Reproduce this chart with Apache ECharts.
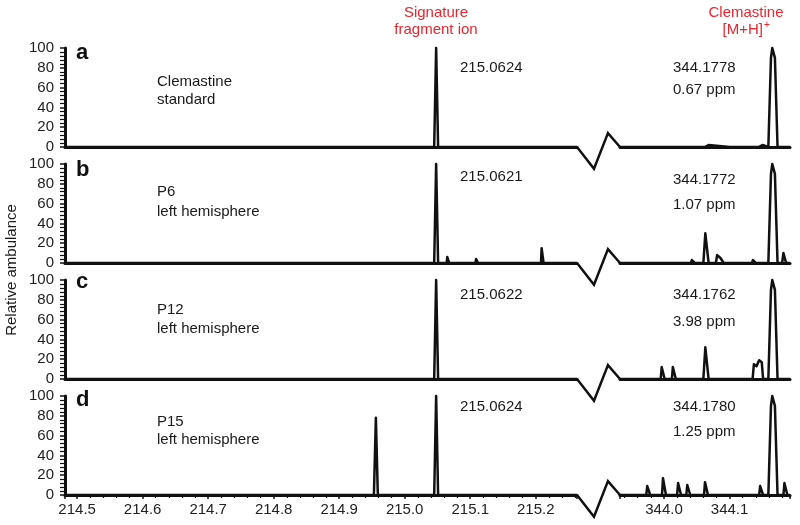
<!DOCTYPE html>
<html>
<head>
<meta charset="utf-8">
<script src="https://cdn.jsdelivr.net/npm/echarts@6/dist/echarts.min.js"></script>
<style>html,body{margin:0;padding:0;background:#fff}#chart{width:800px;height:525px}</style>
</head>
<body>
<div id="chart"></div>
<script>
// ---------- data ----------
const panelLetters = ['a', 'b', 'c', 'd'];
const sampleLine1 = ['Clemastine', 'P6', 'P12', 'P15'];
const sampleLine2 = ['standard', 'left hemisphere', 'left hemisphere', 'left hemisphere'];
const fragmentMass = ['215.0624', '215.0621', '215.0622', '215.0624'];
const parentMass = ['344.1778', '344.1772', '344.1762', '344.1780'];
const ppmError = ['0.67 ppm', '1.07 ppm', '3.98 ppm', '1.25 ppm'];

const leftRange = [214.4815, 215.263];
const rightRange = [343.933, 344.192];
const yTicks = [0, 100, 20];

// profile points [m/z, relative abundance]
const specA_L = [[214.4815,0],[215.045,0],[215.048,100],[215.051,0],[215.263,0]];
const specB_L = [[214.4815,0],[215.045,0],[215.048,100],[215.051,0],[215.064,0],[215.065,6],[215.067,6],[215.068,0],
  [215.108,0],[215.109,4],[215.111,4],[215.112,0],[215.124,0],[215.125,1],[215.127,1],[215.128,0],
  [215.163,0],[215.164,2],[215.166,2],[215.167,0],[215.208,0],[215.209,15],[215.211,15],[215.212,0],[215.263,0]];
const specC_L = [[214.4815,0],[215.045,0],[215.048,100],[215.051,0],[215.064,0],[215.065,2],[215.067,2],[215.068,0],
  [215.108,0],[215.109,1],[215.111,1],[215.112,0],[215.263,0]];
const specD_L = [[214.4815,0],[214.953,0],[214.956,78],[214.959,0],[215.045,0],[215.048,100],[215.051,0],
  [215.108,0],[215.109,2],[215.111,2],[215.112,0],[215.263,0]];

const specA_R = [[343.933,0],[344.062,0],[344.064,2],[344.068,2],[344.070,0],[344.100,0],[344.144,0],[344.146,2],[344.150,2],[344.152,0],
  [344.159,0],[344.163,90],[344.165,100],[344.167,100],[344.169,90],[344.173,0],[344.192,0]];
const specB_R = [[343.933,0],[344.041,0],[344.0425,3],[344.0455,3],[344.047,0],[344.060,0],[344.063,30],[344.064,32],[344.065,30],[344.068,0],
  [344.079,0],[344.081,8],[344.083,7],[344.086,5],[344.089,5],[344.091,0],[344.134,0],[344.1355,3],[344.1385,3],[344.140,0],
  [344.159,0],[344.163,90],[344.165,100],[344.167,100],[344.169,90],[344.173,0],[344.180,0],[344.182,10],[344.184,10],[344.186,0],[344.192,0]];
const specC_R = [[343.933,0],[343.995,0],[343.9965,12],[343.9995,12],[344.001,0],[344.012,0],[344.0135,12],[344.0165,12],[344.018,0],
  [344.060,0],[344.063,32],[344.064,34],[344.065,32],[344.068,0],
  [344.135,0],[344.137,15],[344.139,16],[344.141,13],[344.143,13],[344.145,19],[344.147,20],[344.149,17],[344.151,0],
  [344.159,0],[344.163,90],[344.165,100],[344.167,100],[344.169,90],[344.173,0],[344.192,0]];
const specD_R = [[343.933,0],[343.973,0],[343.9745,9],[343.9775,9],[343.979,0],[343.997,0],[343.9985,17],[344.0015,17],[344.003,0],
  [344.020,0],[344.0215,12],[344.0245,12],[344.026,0],[344.034,0],[344.0355,10],[344.0385,10],[344.040,0],
  [344.061,0],[344.0625,13],[344.0655,13],[344.067,0],[344.145,0],[344.1465,9],[344.1495,9],[344.151,0],
  [344.159,0],[344.163,90],[344.165,100],[344.167,100],[344.169,90],[344.173,0],[344.182,0],[344.1835,12],[344.1865,12],[344.188,0],[344.192,0]];

const leftSpectra = [specA_L, specB_L, specC_L, specD_L];
const rightSpectra = [specA_R, specB_R, specC_R, specD_R];

// axis-break zigzag in the gap between the two x ranges (fraction of gap, abundance units)
const breakZigzag = [[0,0],[0.395,-22],[0.72,14],[1,0]];

// ---------- layout / style ----------
const FONT = '"Liberation Sans", Arial, Helvetica, sans-serif';
const INK = '#111';
const RED = '#e8262f';
const panelTop = [48, 164, 280, 396];
const panelH = 99;
const leftX = 65, breakX = 577, rightX = 620, rightEnd = 790;

const grids = [], xAxes = [], yAxes = [], series = [], graphics = [];
const fmt1 = v => v.toFixed(1);

for (let i = 0; i < 4; i++) {
  const last = i === 3;
  const base = i * 3;
  grids.push({left: leftX, top: panelTop[i], width: breakX - leftX, height: panelH, outerBoundsMode: 'none', containLabel: false});
  grids.push({left: breakX, top: panelTop[i], width: rightX - breakX, height: panelH, outerBoundsMode: 'none', containLabel: false});
  grids.push({left: rightX, top: panelTop[i], width: rightEnd - rightX, height: panelH, outerBoundsMode: 'none', containLabel: false});

  const xCommon = (range, split) => ({
    type: 'value', min: range[0], max: range[1], splitNumber: split,
    axisLine: {show: true, onZero: false, lineStyle: {color: INK, width: 3}},
    axisTick: {show: last, length: 4, lineStyle: {color: INK, width: 1.5}},
    minorTick: {show: last, splitNumber: 5, length: 3, lineStyle: {color: INK, width: 1.2}},
    axisLabel: {show: last, formatter: fmt1, fontFamily: FONT, fontSize: 15, color: '#222', margin: 7,
      showMinLabel: false, showMaxLabel: false},
    splitLine: {show: false}
  });
  xAxes.push(Object.assign(xCommon(leftRange, 7), {gridIndex: base}));
  xAxes.push({type: 'value', gridIndex: base + 1, min: 0, max: 1, show: false});
  xAxes.push(Object.assign(xCommon(rightRange, 3), {gridIndex: base + 2}));

  yAxes.push({
    type: 'value', gridIndex: base, min: yTicks[0], max: yTicks[1], interval: yTicks[2],
    axisLine: {show: true, lineStyle: {color: INK, width: 3}},
    axisTick: {show: true, length: 5, lineStyle: {color: INK, width: 1.5}},
    minorTick: {show: true, splitNumber: 5, length: 5, lineStyle: {color: INK, width: 1.2}},
    axisLabel: {fontFamily: FONT, fontSize: 15, color: '#222', margin: 11},
    splitLine: {show: false}
  });
  yAxes.push({type: 'value', gridIndex: base + 1, min: 0, max: 100, show: false});
  yAxes.push({type: 'value', gridIndex: base + 2, min: 0, max: 100, show: false});

  const lineCommon = {type: 'line', showSymbol: false, symbol: 'none', animation: false, clip: false,
    lineStyle: {color: INK, width: 2.5, join: 'round'}, z: 5};
  series.push(Object.assign({}, lineCommon, {xAxisIndex: base, yAxisIndex: base, data: leftSpectra[i]}));
  series.push(Object.assign({}, lineCommon, {xAxisIndex: base + 1, yAxisIndex: base + 1, data: breakZigzag,
    lineStyle: {color: INK, width: 2.5, join: 'miter'}}));
  series.push(Object.assign({}, lineCommon, {xAxisIndex: base + 2, yAxisIndex: base + 2, data: rightSpectra[i]}));
}

const letterY = [53, 170, 282, 400];
const s1Y = [82, 192, 310, 422];
const s2Y = [100, 212, 329, 440];
const fragY = [68, 177, 295, 407];
const parY = [68, 180, 295, 407];
const ppmY = [90, 205, 322, 432];
const txt = (text, x, y, opts) => ({type: 'text', silent: true, z: 10, style: Object.assign({
  text: text, x: x, y: y, fill: '#1a1a1a', font: '15px ' + FONT, textAlign: 'left', textVerticalAlign: 'middle'}, opts || {})});

for (let i = 0; i < 4; i++) {
  graphics.push(txt(panelLetters[i], 76, letterY[i], {font: 'bold 22px ' + FONT, fill: '#111'}));
  graphics.push(txt(sampleLine1[i], 157, s1Y[i]));
  graphics.push(txt(sampleLine2[i], 157, s2Y[i]));
  graphics.push(txt(fragmentMass[i], 460, fragY[i]));
  graphics.push(txt(parentMass[i], 673, parY[i]));
  graphics.push(txt(ppmError[i], 673, ppmY[i]));
}
graphics.push(txt('Signature', 436, 13, {fill: RED, textAlign: 'center'}));
graphics.push(txt('fragment ion', 436, 30, {fill: RED, textAlign: 'center'}));
graphics.push(txt('Clemastine', 746, 13, {fill: RED, textAlign: 'center'}));
graphics.push(txt('[M+H]', 763, 30, {fill: RED, textAlign: 'right'}));
graphics.push(txt('+', 764, 25, {fill: RED, font: '10px ' + FONT}));
graphics.push({type: 'text', silent: true, z: 10, x: 12, y: 270, rotation: Math.PI / 2,
  style: {text: 'Relative ambulance', x: 0, y: 0, fill: '#1a1a1a', font: '15px ' + FONT, textAlign: 'center', textVerticalAlign: 'middle'}});

const chart = echarts.init(document.getElementById('chart'), null, {renderer: 'canvas'});
chart.setOption({
  backgroundColor: '#ffffff',
  animation: false,
  grid: grids,
  xAxis: xAxes,
  yAxis: yAxes,
  series: series,
  graphic: graphics
});
</script>
</body>
</html>
